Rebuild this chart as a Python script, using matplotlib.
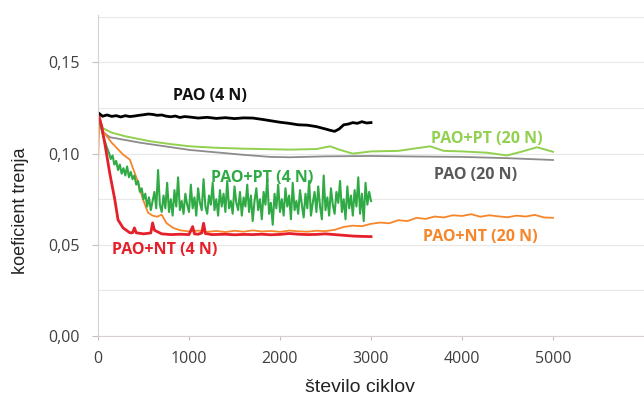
import matplotlib

matplotlib.use("Agg")
import matplotlib.pyplot as plt
from matplotlib.ticker import FuncFormatter, MultipleLocator

# PAO (4 N)
pao4_x = [0, 50, 100, 150, 200, 250, 300, 350, 400, 450, 500, 550, 600, 650, 700,
          750, 800, 850, 900, 950, 1000, 1100, 1200, 1300, 1400, 1500, 1600, 1700,
          1800, 1900, 2000, 2100, 2200, 2300, 2400, 2500, 2550, 2600, 2650, 2700,
          2750, 2800, 2850, 2900, 2950, 3000]
pao4_y = [0.1225, 0.1205, 0.1212, 0.1204, 0.1208, 0.1201, 0.1208, 0.1203, 0.1206,
          0.1210, 0.1213, 0.1217, 0.1215, 0.1210, 0.1212, 0.1205, 0.1202, 0.1206,
          0.1198, 0.1203, 0.1201, 0.1195, 0.1199, 0.1193, 0.1197, 0.1192, 0.1196,
          0.1195, 0.1188, 0.1180, 0.1172, 0.1166, 0.1158, 0.1156, 0.1148, 0.1135,
          0.1128, 0.1122, 0.1135, 0.1158, 0.1162, 0.1170, 0.1166, 0.1175, 0.1168,
          0.1170]

# PAO+PT (20 N)
pt20_x = [0, 50, 150, 300, 570, 800, 1010, 1300, 1600, 2110, 2400, 2550, 2650,
          2800, 3000, 3300, 3650, 3800, 4000, 4275, 4495, 4650, 4824, 5000]
pt20_y = [0.1215, 0.1140, 0.1115, 0.1095, 0.1068, 0.1052, 0.1040, 0.1032, 0.1027,
          0.1022, 0.1025, 0.1040, 0.1022, 0.1000, 0.1012, 0.1015, 0.1040, 0.1015,
          0.1012, 0.1005, 0.0990, 0.1010, 0.1035, 0.1010]

# PAO (20 N)
pao20_x = [0, 50, 130, 460, 1010, 1560, 1890, 2110, 2500, 3000, 3500, 4000,
           4500, 5000]
pao20_y = [0.1210, 0.1120, 0.1090, 0.1060, 0.1020, 0.0995, 0.0982, 0.0980,
           0.0985, 0.0987, 0.0984, 0.0982, 0.0975, 0.0965]

# PAO+PT (4 N), sampled every 20 cycles
pt4_x = list(range(0, 3001, 20))
pt4_y = [0.121, 0.117, 0.113, 0.109, 0.106, 0.103, 0.1005, 0.097, 0.099, 0.094,
         0.096, 0.091, 0.094, 0.089, 0.092, 0.088, 0.093, 0.087, 0.090, 0.086,
         0.088, 0.083, 0.085, 0.079, 0.081, 0.075, 0.078, 0.071, 0.076, 0.069,
         0.074, 0.079, 0.070, 0.091, 0.072, 0.068, 0.077, 0.070, 0.084, 0.068,
         0.075, 0.066, 0.080, 0.071, 0.087, 0.069, 0.074, 0.067, 0.078, 0.072,
         0.068, 0.083, 0.070, 0.076, 0.066, 0.081, 0.073, 0.069, 0.086, 0.071,
         0.067, 0.077, 0.072, 0.084, 0.069, 0.075, 0.066, 0.080, 0.071, 0.078,
         0.068, 0.085, 0.070, 0.074, 0.067, 0.082, 0.073, 0.069, 0.079, 0.066,
         0.076, 0.071, 0.083, 0.068, 0.077, 0.063, 0.074, 0.081, 0.069, 0.075,
         0.064, 0.079, 0.072, 0.086, 0.067, 0.073, 0.061, 0.078, 0.070, 0.083,
         0.068, 0.075, 0.066, 0.081, 0.071, 0.077, 0.064, 0.084, 0.069, 0.074,
         0.067, 0.080, 0.072, 0.065, 0.078, 0.070, 0.085, 0.066, 0.073, 0.079,
         0.068, 0.082, 0.071, 0.064, 0.088, 0.069, 0.076, 0.066, 0.081, 0.072,
         0.067, 0.079, 0.073, 0.085, 0.068, 0.075, 0.064, 0.082, 0.070, 0.077,
         0.066, 0.080, 0.071, 0.087, 0.067, 0.078, 0.063, 0.084, 0.072, 0.079,
         0.074]

# PAO+NT (20 N)
nt20_x = [0, 15, 60, 150, 275, 350, 430, 495, 550, 600, 650, 700, 750, 825, 900,
          1000, 1100, 1200, 1300, 1400, 1500, 1600, 1700, 1800, 1900, 2000, 2100,
          2200, 2300, 2400, 2500, 2600, 2700, 2800, 2900, 3000, 3100, 3200, 3300,
          3400, 3500, 3600, 3700, 3800, 3900, 4000, 4100, 4200, 4300, 4400, 4500,
          4600, 4700, 4800, 4900, 5000]
nt20_y = [0.093, 0.121, 0.112, 0.106, 0.0995, 0.0967, 0.0857, 0.0747, 0.0676,
          0.0660, 0.0654, 0.0665, 0.0620, 0.0593, 0.0580, 0.0573, 0.0578, 0.0571,
          0.0576, 0.0570, 0.0577, 0.0572, 0.0579, 0.0573, 0.0576, 0.0571, 0.0578,
          0.0574, 0.0572, 0.0577, 0.0575, 0.0582, 0.0598, 0.0605, 0.0602, 0.0615,
          0.0622, 0.0618, 0.0635, 0.0630, 0.0648, 0.0642, 0.0655, 0.0650, 0.0662,
          0.0658, 0.0668, 0.0654, 0.0662, 0.0656, 0.0651, 0.0660, 0.0655, 0.0664,
          0.0650, 0.0648]

# PAO+NT (4 N)
nt4_x = [0, 40, 80, 130, 185, 220, 275, 350, 380, 400, 420, 500, 580, 600, 620,
         700, 800, 900, 1000, 1040, 1060, 1100, 1140, 1160, 1180, 1250, 1400,
         1500, 1600, 1700, 1800, 1900, 2000, 2100, 2200, 2300, 2400, 2500, 2600,
         2700, 2800, 2900, 3000]
nt4_y = [0.122, 0.115, 0.104, 0.089, 0.0747, 0.0637, 0.0593, 0.0566, 0.0566,
         0.0593, 0.0566, 0.0560, 0.0565, 0.0620, 0.0580, 0.0560, 0.0556, 0.0558,
         0.0556, 0.0600, 0.0560, 0.0558, 0.0565, 0.0618, 0.0562, 0.0556, 0.0558,
         0.0555, 0.0557, 0.0556, 0.0558, 0.0555, 0.0557, 0.0562, 0.0558, 0.0556,
         0.0557, 0.0560, 0.0556, 0.0552, 0.0548, 0.0546, 0.0545]

series = [
    (pt20_x, pt20_y, "#92D050", 1.4),
    (pao20_x, pao20_y, "#8C8C8C", 1.3),
    (nt20_x, nt20_y, "#F7862A", 1.3),
    (pt4_x, pt4_y, "#2FAA45", 1.5),
    (nt4_x, nt4_y, "#E5202A", 2.0),
    (pao4_x, pao4_y, "#000000", 2.0),
]

labels = [
    ("PAO (4 N)", 1231, 0.1316, "#111111"),
    ("PAO+PT (20 N)", 4275, 0.1080, "#92D050"),
    ("PAO (20 N)", 4154, 0.0883, "#595959"),
    ("PAO+PT (4 N)", 1802, 0.0866, "#2FAA45"),
    ("PAO+NT (20 N)", 4198, 0.0543, "#F7862A"),
    ("PAO+NT (4 N)", 736, 0.0472, "#E5202A"),
]

fig = plt.figure(figsize=(6.44, 3.98), dpi=100)
ax = fig.add_axes([98 / 644, 62 / 398, 546 / 644, 321 / 398])

for xs, ys, color, lw in series:
    ax.plot(xs, ys, color=color, linewidth=lw, solid_joinstyle="round")

for text, x, y, color in labels:
    ax.text(x, y, text, color=color, fontsize=11.5, fontweight="bold",
            family="Open Sans", ha="center", va="center")

ax.set_xlim(0, 6000)
ax.set_ylim(0, 0.176)
ax.set_xticks([0, 1000, 2000, 3000, 4000, 5000])
ax.yaxis.set_major_locator(MultipleLocator(0.05))
ax.yaxis.set_minor_locator(MultipleLocator(0.025))
ax.yaxis.set_major_formatter(FuncFormatter(lambda v, _: f"{v:.2f}".replace(".", ",")))
ax.grid(axis="y", which="both", color="#E8E8E8", linewidth=0.8)
ax.set_axisbelow(True)

for side in ("top", "right"):
    ax.spines[side].set_visible(False)
ax.spines["left"].set_color("#D8CFCF")
ax.spines["bottom"].set_color("#D8CFCF")

ax.tick_params(axis="y", which="major", length=4, color="#C8C0C0", pad=9,
               labelsize=11.5, labelcolor="#404040")
ax.tick_params(axis="y", which="minor", length=0)
ax.tick_params(axis="x", length=3, color="#C8C0C0", pad=8, labelsize=11.5,
               labelcolor="#404040")
for lab in ax.get_xticklabels() + ax.get_yticklabels():
    lab.set_family("Open Sans")

fig.text(360 / 644, 1 - 388 / 398, "število ciklov", ha="center", va="center",
         fontsize=14, family="Liberation Sans", color="#222222")
fig.text(21 / 644, 1 - 211 / 398, "koeficient trenja", ha="center", va="center",
         rotation=90, fontsize=13, family="Liberation Sans", color="#222222")

fig.savefig("out.png", dpi=100)
